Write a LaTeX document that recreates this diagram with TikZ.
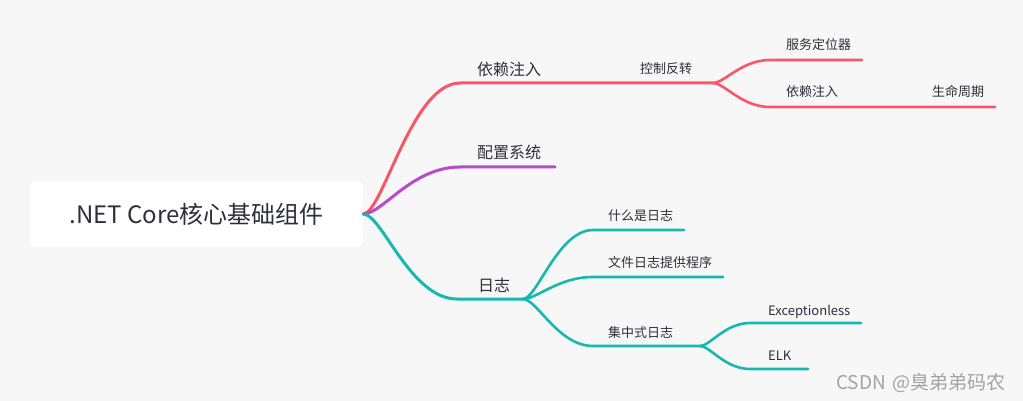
\documentclass[tikz,border=0pt]{standalone}
\usepackage{fontspec}
\newfontfamily\cjk{Noto Sans CJK SC}
\usetikzlibrary{calc}
\definecolor{bg}{HTML}{F7F7F7}
\definecolor{cred}{HTML}{F9566A}
\definecolor{cpur}{HTML}{B64CC8}
\definecolor{cteal}{HTML}{15B9AE}
\definecolor{txt}{HTML}{2E2F3A}
\definecolor{wm}{HTML}{A3A3A3}
\newcommand\mmbranch[4]{\draw[#1] let \p1=(#2), \p2=(#3) in (#2) .. controls ({0.8*\x1+0.2*\x2},\y1) and ({0.5*\x1+0.5*\x2},\y2) .. (#3) -- (#4);}
\begin{document}
\begin{tikzpicture}[x=1pt,y=-1pt,
  brA/.style={line width=3pt, line cap=round},
  brB/.style={line width=2.6pt, line cap=round},
  lab/.style={anchor=base west, inner sep=0pt, text=txt, font=\cjk\fontsize{13}{13}\selectfont},
  labA/.style={lab, font=\cjk\fontsize{16}{16}\selectfont}]
\fill[bg] (0,0) rectangle (1023,401);
\useasboundingbox (0,0) rectangle (1023,401);
\node[fill=white, rounded corners=6pt, minimum width=333pt, minimum height=66pt, inner sep=0pt,
  text=txt, font=\cjk\fontsize{24}{24}\selectfont] (root) at (196.5,214) {.NET Core核心基础组件};
% coordinates
\coordinate (diS) at (460,83);  \coordinate (diE) at (713,83);
\coordinate (fwS) at (770,60);  \coordinate (fwE) at (862,60);
\coordinate (dlS) at (770,107); \coordinate (dlE) at (995,107);
\coordinate (pzS) at (460,167); \coordinate (pzE) at (555,167);
\coordinate (rzS) at (457,299); \coordinate (rzE) at (523,299);
\coordinate (wtS) at (593,230); \coordinate (wtE) at (684,230);
\coordinate (wjS) at (593,277); \coordinate (wjE) at (723,277);
\coordinate (jzS) at (593,346); \coordinate (jzE) at (700,346);
\coordinate (exS) at (750,323); \coordinate (exE) at (861,323);
\coordinate (elS) at (750,369); \coordinate (elE) at (808,369);
% branches
\mmbranch{brA,cred}{root.east}{diS}{diE}
\mmbranch{brB,cred}{diE}{fwS}{fwE}
\mmbranch{brB,cred}{diE}{dlS}{dlE}
\mmbranch{brA,cpur}{root.east}{pzS}{pzE}
\mmbranch{brA,cteal}{root.east}{rzS}{rzE}
\mmbranch{brB,cteal}{rzE}{wtS}{wtE}
\mmbranch{brB,cteal}{rzE}{wjS}{wjE}
\mmbranch{brB,cteal}{rzE}{jzS}{jzE}
\mmbranch{brB,cteal}{jzE}{exS}{exE}
\mmbranch{brB,cteal}{jzE}{elS}{elE}
% labels
\node[labA] (l1) at (477,76) {依赖注入};
\node[lab] (l2) at (640,74) {控制反转};
\node[lab] (l3) at (786,50) {服务定位器};
\node[lab] (l4) at (786,97) {依赖注入};
\node[lab] (l5) at (932,97) {生命周期};
\node[labA] (l6) at (477,159) {配置系统};
\node[labA] (l7) at (478,291) {日志};
\node[lab] (l8) at (608,220) {什么是日志};
\node[lab] (l9) at (608,267) {文件日志提供程序};
\node[lab] (l10) at (608,337) {集中式日志};
\node[lab] (l11) at (768,315) {Exceptionless};
\node[lab] (l12) at (768,360) {ELK};
\node[anchor=base west, inner sep=0pt, text=wm, font=\cjk\fontsize{19}{19}\selectfont] (wmk) at (836,389) {CSDN\hspace{0.35em}@臭弟弟码农};
\end{tikzpicture}
\end{document}
